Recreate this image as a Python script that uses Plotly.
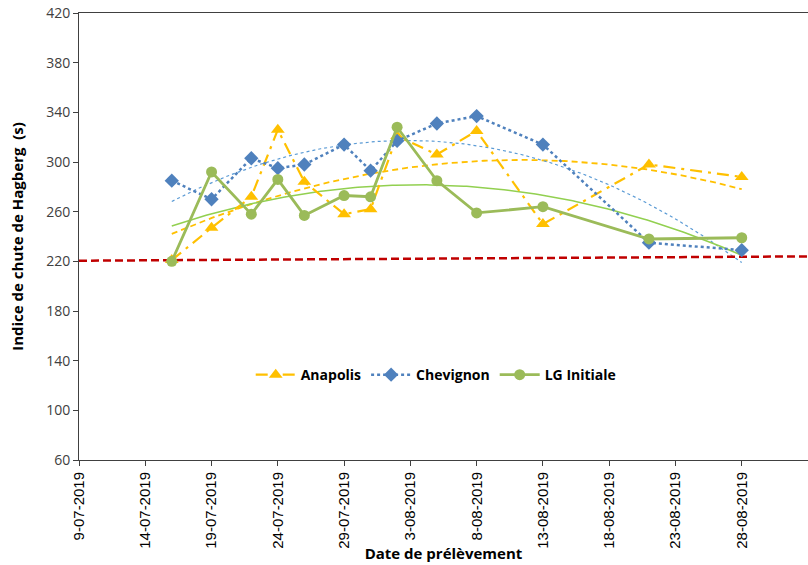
import numpy as np
import pandas as pd
import plotly.graph_objects as go

dates = ["2019-07-16", "2019-07-19", "2019-07-22", "2019-07-24", "2019-07-26", "2019-07-29",
         "2019-07-31", "2019-08-02", "2019-08-05", "2019-08-08", "2019-08-13", "2019-08-21",
         "2019-08-28"]
anapolis = [221, 247, 272, 326, 284, 258, 262, 321, 306, 325, 250, 298, 288]
chevignon = [285, 270, 303, 295, 298, 314, 293, 317, 331, 337, 314, 235, 229]
lg_initiale = [220, 292, 258, 286, 257, 273, 272, 328, 285, 259, 264, 238, 239]
threshold_dates = ["2019-07-09", "2019-09-02"]
threshold_vals = [220.5, 224]

d = pd.to_datetime(dates)
t = np.array([(x - d[0]).days for x in d], dtype=float)
tt = np.linspace(t[0], t[-1], 200)
tdates = [d[0] + pd.Timedelta(days=float(v)) for v in tt]

def trend(vals):
    c = np.polyfit(t, np.array(vals, float), 2)
    return np.polyval(c, tt)

fig = go.Figure()
font = "Open Sans"

# trendlines
fig.add_trace(go.Scatter(x=tdates, y=trend(anapolis), mode="lines", showlegend=False,
                         line=dict(color="#FFC000", width=1.8, dash="6px,4px"), hoverinfo="skip"))
fig.add_trace(go.Scatter(x=tdates, y=trend(chevignon), mode="lines", showlegend=False,
                         line=dict(color="#5B9BD5", width=1.2, dash="dot"), hoverinfo="skip"))
fig.add_trace(go.Scatter(x=tdates, y=trend(lg_initiale), mode="lines", showlegend=False,
                         line=dict(color="#92D050", width=1.5), hoverinfo="skip"))

# threshold
fig.add_trace(go.Scatter(x=threshold_dates, y=threshold_vals, mode="lines", showlegend=False,
                         line=dict(color="#C00000", width=2.5, dash="8px,4px"), hoverinfo="skip"))

fig.add_trace(go.Scatter(x=dates, y=anapolis, name="Anapolis", mode="lines+markers",
                         line=dict(color="#FFC000", width=2.2, dash="12px,6px,3px,6px"),
                         marker=dict(symbol="triangle-up", size=12, color="#FFC000")))
fig.add_trace(go.Scatter(x=dates, y=chevignon, name="Chevignon", mode="lines+markers",
                         line=dict(color="#4F81BD", width=2.5, dash="dot"),
                         marker=dict(symbol="diamond", size=11, color="#4F81BD")))
fig.add_trace(go.Scatter(x=dates, y=lg_initiale, name="LG Initiale", mode="lines+markers",
                         line=dict(color="#9BBB59", width=2.8),
                         marker=dict(symbol="circle", size=11, color="#9BBB59")))

fig.update_layout(
    width=808, height=565,
    margin=dict(l=79, r=0, t=13, b=105),
    paper_bgcolor="white", plot_bgcolor="white",
    font=dict(family=font, size=13, color="#404040"),
    legend=dict(orientation="h", x=0.49, y=0.19, xanchor="center", yanchor="middle",
                font=dict(family=font, size=14, color="black", weight="bold"),
                bgcolor="rgba(0,0,0,0)", itemwidth=40),
    xaxis=dict(type="date", range=["2019-07-09", "2019-09-02"], tick0="2019-07-09",
               dtick=5 * 86400000, tickformat="%-d-%m-%Y", tickangle=-90,
               showgrid=False, zeroline=False, showline=True, linecolor="#404040", linewidth=1,
               mirror=True, ticks="outside", ticklen=5, tickcolor="#404040",
               tickfont=dict(family="Liberation Sans", size=15, color="black"),
               title=dict(text="Date de prélèvement", standoff=0,
                          font=dict(family=font, size=15, color="black", weight="bold")),
               automargin=False),
    yaxis=dict(range=[60, 420], dtick=40, tick0=60, showgrid=False, zeroline=False,
               showline=True, linecolor="#404040", linewidth=1, mirror=True,
               ticks="outside", ticklen=5, tickcolor="#404040",
               tickfont=dict(family=font, size=14, color="#404040"),
               title=dict(text="Indice de chute de Hagberg  (s)", standoff=18,
                          font=dict(family=font, size=15, color="black", weight="bold")),
               automargin=False),
)

fig.write_html("out.html", config={"displayModeBar": False},
               post_script="document.body.style.margin='0';document.body.style.overflow='hidden';")
